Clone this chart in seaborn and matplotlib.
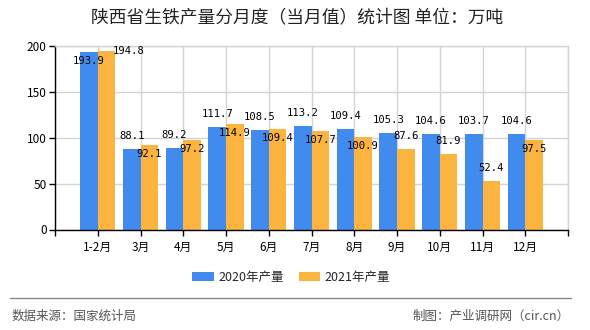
import matplotlib
matplotlib.use("Agg")
import matplotlib.pyplot as plt
import seaborn as sns
import pandas as pd
from matplotlib.patches import Patch
from matplotlib.lines import Line2D

months = ["1-2月", "3月", "4月", "5月", "6月", "7月", "8月", "9月", "10月", "11月", "12月"]
v2020 = [193.9, 88.1, 89.2, 111.7, 108.5, 113.2, 109.4, 105.3, 104.6, 103.7, 104.6]
v2021 = [194.8, 92.1, 97.2, 114.9, 109.4, 107.7, 100.9, 87.6, 81.9, 52.4, 97.5]
series = ["2020年产量", "2021年产量"]
title = "陕西省生铁产量分月度（当月值）统计图 单位：万吨"
source = "数据来源：国家统计局"
credit = "制图：产业调研网（cir.cn）"

BLUE = "#418BEE"
ORANGE = "#FBB440"

sns.set_theme(style="white")
plt.rcParams["font.family"] = ["Noto Sans CJK SC", "DejaVu Sans"]

df = pd.DataFrame({
    "month": months * 2,
    "value": v2020 + v2021,
    "year": [series[0]] * len(months) + [series[1]] * len(months),
})

W, H = 590, 330
fig = plt.figure(figsize=(W / 100, H / 100), dpi=100)
ax = fig.add_axes([55 / W, 1 - 229.5 / H, 513 / W, 183.5 / H])

sns.barplot(data=df, x="month", y="value", hue="year", order=months,
            hue_order=series, palette=[BLUE, ORANGE], width=0.82,
            saturation=1, ax=ax, legend=False, linewidth=0, edgecolor="none")

ax.set_xlim(-1, len(months))
ax.set_ylim(0, 200)
ax.set_yticks([0, 50, 100, 150, 200])
ax.set_xticks(range(-1, len(months) + 1))
ax.set_xticklabels([""] + months + [""])
ax.set_xlabel("")
ax.set_ylabel("")
ax.set_axisbelow(True)
ax.grid(True, color="#d4d4d4", lw=1)
for s in ["top", "right"]:
    ax.spines[s].set_color("#d4d4d4")
    ax.spines[s].set_linewidth(1)
for s in ["left", "bottom"]:
    ax.spines[s].set_color("black")
    ax.spines[s].set_linewidth(1)
ax.tick_params(axis="both", length=4, width=1, color="black", labelsize=8.5,
               labelcolor="black", pad=2, direction="out")
ax.tick_params(axis="x", pad=4)
ax.tick_params(bottom=True, left=True)

# data labels
px2pt = 72 / 100
lab_kw = dict(fontsize=7.6, family="DejaVu Sans Mono", color="black", ha="center",
              textcoords="offset points")
c2020, c2021 = ax.containers[0], ax.containers[1]
for i, (b1, b2) in enumerate(zip(c2020, c2021)):
    a, b = v2020[i], v2021[i]
    x1 = b1.get_x() + b1.get_width() / 2
    x2 = b2.get_x() + b2.get_width() / 2
    if a > 185:
        ax.annotate(f"{a:.1f}", (x1, a), xytext=(0, -4 * px2pt), va="top", **lab_kw)
        ax.annotate(f"{b:.1f}", (x2, b), xytext=(22 * px2pt, 0), va="center", **lab_kw)
        continue
    ax.annotate(f"{a:.1f}", (x1, a), xytext=(0, 8 * px2pt), va="bottom", **lab_kw)
    if abs(a - b) < 10:
        ax.annotate(f"{b:.1f}", (x2, b), xytext=(0, -4 * px2pt), va="top", **lab_kw)
    else:
        ax.annotate(f"{b:.1f}", (x2, b), xytext=(0, 8 * px2pt), va="bottom", **lab_kw)

fig.text(297 / W, 1 - 18 / H, title, ha="center", va="center", fontsize=12.8, color="#222222")

handles = [Patch(facecolor=BLUE, edgecolor="none"), Patch(facecolor=ORANGE, edgecolor="none")]
fig.legend(handles, series, loc="center", bbox_to_anchor=(291 / W, 1 - 277 / H), ncol=2,
           frameon=False, fontsize=9, handlelength=1.75, handleheight=0.7,
           handletextpad=0.35, columnspacing=1.2, borderaxespad=0)

fig.add_artist(Line2D([10 / W, 571 / W], [1 - 298 / H] * 2, color="#888888", lw=1))
fig.text(12 / W, 1 - 316 / H, source, ha="left", va="center", fontsize=9, color="#555555")
fig.text(570 / W, 1 - 316 / H, credit, ha="right", va="center", fontsize=9, color="#555555")

fig.savefig("out.png", dpi=100)
